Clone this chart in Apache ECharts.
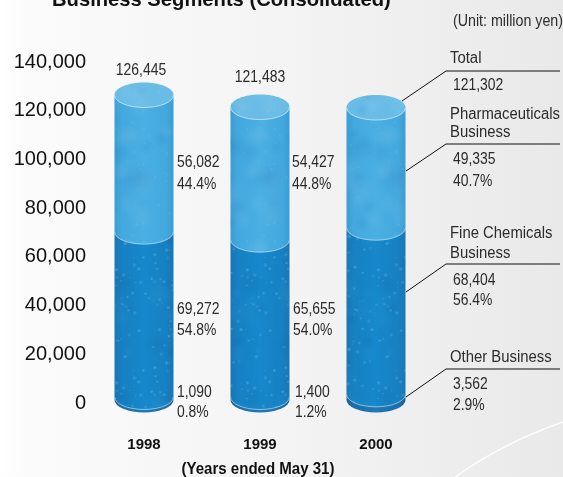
<!DOCTYPE html>
<html><head><meta charset="utf-8">
<style>html,body{margin:0;padding:0;background:#fff}#c{width:563px;height:477px}</style>
<script src="https://cdn.jsdelivr.net/npm/echarts@6/dist/echarts.min.js"></script>
</head><body><div id="c"></div>
<script>
const years = ['1998','1999','2000'];
const yTicks = [0,20000,40000,60000,80000,100000,120000,140000];
const otherValues = [1090,1400,3562];
const chemValues = [69272,65655,68404];
const pharmaValues = [56082,54427,49335];
const totals = ['126,445','121,483'];
const chemPct = ['54.8%','54.0%'];
const pharmaPct = ['44.4%','44.8%'];
const otherPct = ['0.8%','1.2%'];

const SANS = '"Liberation Sans",Arial,sans-serif';
const TXT = '#2b2b2b';
const NUM_X = 0.87, WORD_X = 0.93, UNIT_X = 0.89;

function speckle(kind){
  const W = 131, H = 113;
  const c = document.createElement('canvas'); c.width = W; c.height = H;
  const g = c.getContext('2d');
  let n = kind === 'light' ? 3 : 17;
  const h = () => { const v = Math.abs(Math.sin(++n * 12.9898) * 43758.5453); return v - Math.floor(v); };
  function blob(x,y,r,rgb,a){
    [-W,0,W].forEach(dx=>[-H,0,H].forEach(dy=>{
      const X=x+dx, Y=y+dy;
      const gr = g.createRadialGradient(X,Y,0,X,Y,r);
      gr.addColorStop(0,`rgba(${rgb},${a})`); gr.addColorStop(1,`rgba(${rgb},0)`);
      g.fillStyle = gr; g.fillRect(X-r,Y-r,2*r,2*r);
    }));
  }
  if (kind === 'light') {
    for (let i = 0; i < 36; i++) { const w = h()>.5; blob(h()*W,h()*H,7+h()*10,w?'255,255,255':'25,110,180',w?.05:.11); }
    for (let i = 0; i < 60; i++) blob(h()*W,h()*H,1+h()*1.2,'210,235,250',.1);
  } else {
    for (let i = 0; i < 30; i++) blob(h()*W,h()*H,6+h()*9,h()>.5?'60,160,220':'15,80,140',.12);
    for (let i = 0; i < 130; i++) blob(h()*W,h()*H,1+h()*1.5,'170,225,250',.1+h()*.25);
  }
  return c;
}
const lightTex = speckle('light'), darkTex = speckle('dark');

function sideGrad(edge, mid, mid2){
  return {type:'linear',x:0,y:0,x2:1,y2:0,colorStops:[
    {offset:0,color:edge},{offset:.12,color:mid},{offset:.5,color:mid2},{offset:.88,color:mid},{offset:1,color:edge}]};
}
const R = 29.5, RY = 12.5;
function segItem(kind){
  return function(params, api){
    const i = api.value(0), a = api.value(1), b = api.value(2);
    const cx = api.coord([i,0])[0];
    const base = api.coord([i,0])[1];
    let y0 = api.coord([i,a])[1], y1 = api.coord([i,b])[1];
    if (kind === 'other') y0 = base - 3;
    if (kind === 'chem') y0 = Math.min(y0, base - 6);
    if (kind === 'other') y1 = Math.min(y1, base - 6);
    const l = cx - R, r = cx + R;
    const body = `M${l} ${y1}L${l} ${y0}A${R} ${RY} 0 0 0 ${r} ${y0}L${r} ${y1}Z`;
    const arc = `M${l} ${y0}A${R} ${RY} 0 0 0 ${r} ${y0}`;
    const fills = {
      other: sideGrad('#175f95','#1c6ea8','#1f78b4'),
      chem: sideGrad('#1b76b2','#1680c2','#1688cb'),
      pharma: sideGrad('#3a9dd3','#43a8dd','#4aafe3')
    };
    const kids = [{type:'path',shape:{pathData:body},style:{fill:fills[kind]}}];
    if (kind !== 'other') {
      kids.push({type:'path',shape:{pathData:body},style:{fill:{image:kind==='chem'?darkTex:lightTex,repeat:'repeat'}}});
      kids.push({type:'path',shape:{pathData:arc},style:{fill:'none',stroke:'rgba(255,255,255,.65)',lineWidth:.8}});
    }
    if (kind === 'pharma') {
      kids.push({type:'ellipse',shape:{cx:cx,cy:y1,rx:R,ry:RY},style:{fill:'#69bce6'}});
      kids.push({type:'ellipse',shape:{cx:cx,cy:y1,rx:R,ry:RY},style:{fill:{image:lightTex,repeat:'repeat'}}});
      kids.push({type:'path',shape:{pathData:`M${l} ${y1}A${R} ${RY} 0 0 0 ${r} ${y1}`},style:{fill:'none',stroke:'rgba(255,255,255,.7)',lineWidth:.8}});
    }
    return {type:'group',children:kids};
  };
}
function rows(lowList, highList){
  return years.map((y,i)=>[i, lowList[i], lowList[i]+highList[i]]);
}
const chemBase = otherValues;
const pharmaBase = otherValues.map((v,i)=>v+chemValues[i]);

function t(x,y,text,sx,opt){
  return {type:'text',x:x,y:y+1.5,scaleX:sx||NUM_X,silent:true,style:Object.assign({
    text:text,fill:TXT,font:'16px '+SANS,textBaseline:'middle',textVerticalAlign:'middle',textAlign:'left'},opt||{})};
}
function lead(p){ return {type:'polyline',silent:true,shape:{points:p},style:{stroke:'#111',lineWidth:1,fill:null}}; }
const fmt = v => v.toLocaleString('en-US');

const graphics = [
  {type:'bezierCurve',silent:true,z:-1,shape:{x1:455,y1:477,cpx1:505,cpy1:442,x2:563,y2:422},style:{fill:null,stroke:'rgba(255,255,255,.9)',lineWidth:1.4}},
  t(52,-1,'Business Segments (Consolidated)',1,{fill:'#111',font:'bold 20.2px '+SANS}),
  t(453,20,'(Unit: million yen)',UNIT_X),
  t(450,57,'Total',WORD_X), lead([[402,101],[446,71],[560,71]]), t(453,84,'121,302'),
  t(450,113,'Pharmaceuticals',WORD_X), t(450,131,'Business',WORD_X), lead([[406,171],[446,144],[560,144]]),
  t(453,158,fmt(pharmaValues[2])), t(453,180,'40.7%'),
  t(450,232,'Fine Chemicals',WORD_X), t(450,252,'Business',WORD_X), lead([[406,292],[446,264],[560,264]]),
  t(453,279,fmt(chemValues[2])), t(453,299,'56.4%'),
  t(450,356,'Other Business',WORD_X), lead([[406,397],[446,369],[560,369]]),
  t(453,383,fmt(otherValues[2])), t(453,404,'2.9%'),
  t(141,69,totals[0],NUM_X,{textAlign:'center'}), t(260,76,totals[1],NUM_X,{textAlign:'center'}),
  t(177,161,fmt(pharmaValues[0])), t(177,183,pharmaPct[0]),
  t(292,161,fmt(pharmaValues[1])), t(292,183,pharmaPct[1]),
  t(177,308,fmt(chemValues[0])), t(177,329,chemPct[0]),
  t(293,308,fmt(chemValues[1])), t(293,329,chemPct[1]),
  t(177,391,fmt(otherValues[0])), t(177,411,otherPct[0]),
  t(295,391,fmt(otherValues[1])), t(295,411,otherPct[1]),
  t(258,468,'(Years ended May 31)',0.94,{textAlign:'center',font:'bold 16px '+SANS,fill:'#111'})
];

const chart = echarts.init(document.getElementById('c'), null, {renderer:'canvas'});
chart.setOption({
  animation:false,
  backgroundColor:{type:'linear',x:0,y:0,x2:1,y2:0,colorStops:[
    {offset:0,color:'#ffffff'},{offset:.05,color:'#fbfbfb'},{offset:.5,color:'#f4f4f4'},{offset:1,color:'#e9e9e9'}]},
  grid:{left:86,top:62,width:348,height:341,containLabel:false},
  xAxis:{type:'category',data:years,axisLine:{show:false},axisTick:{show:false},splitLine:{show:false},
    axisLabel:{margin:34,color:'#111',fontFamily:SANS,fontWeight:'bold',fontSize:15}},
  yAxis:{type:'value',min:yTicks[0],max:yTicks[yTicks.length-1],interval:20000,axisLine:{show:false},axisTick:{show:false},splitLine:{show:false},
    axisLabel:{margin:0,color:'#111',fontFamily:SANS,fontSize:20,padding:[4,0,0,0],formatter:v=>v.toLocaleString('en-US')}},
  series:[
    {type:'custom',name:'Other Business',renderItem:segItem('other'),data:rows([0,0,0],otherValues),encode:{x:0,y:[1,2]},clip:false},
    {type:'custom',name:'Fine Chemicals Business',renderItem:segItem('chem'),data:rows(chemBase,chemValues),encode:{x:0,y:[1,2]},clip:false},
    {type:'custom',name:'Pharmaceuticals Business',renderItem:segItem('pharma'),data:rows(pharmaBase,pharmaValues),encode:{x:0,y:[1,2]},clip:false}
  ],
  graphic:graphics
});
</script></body></html>
